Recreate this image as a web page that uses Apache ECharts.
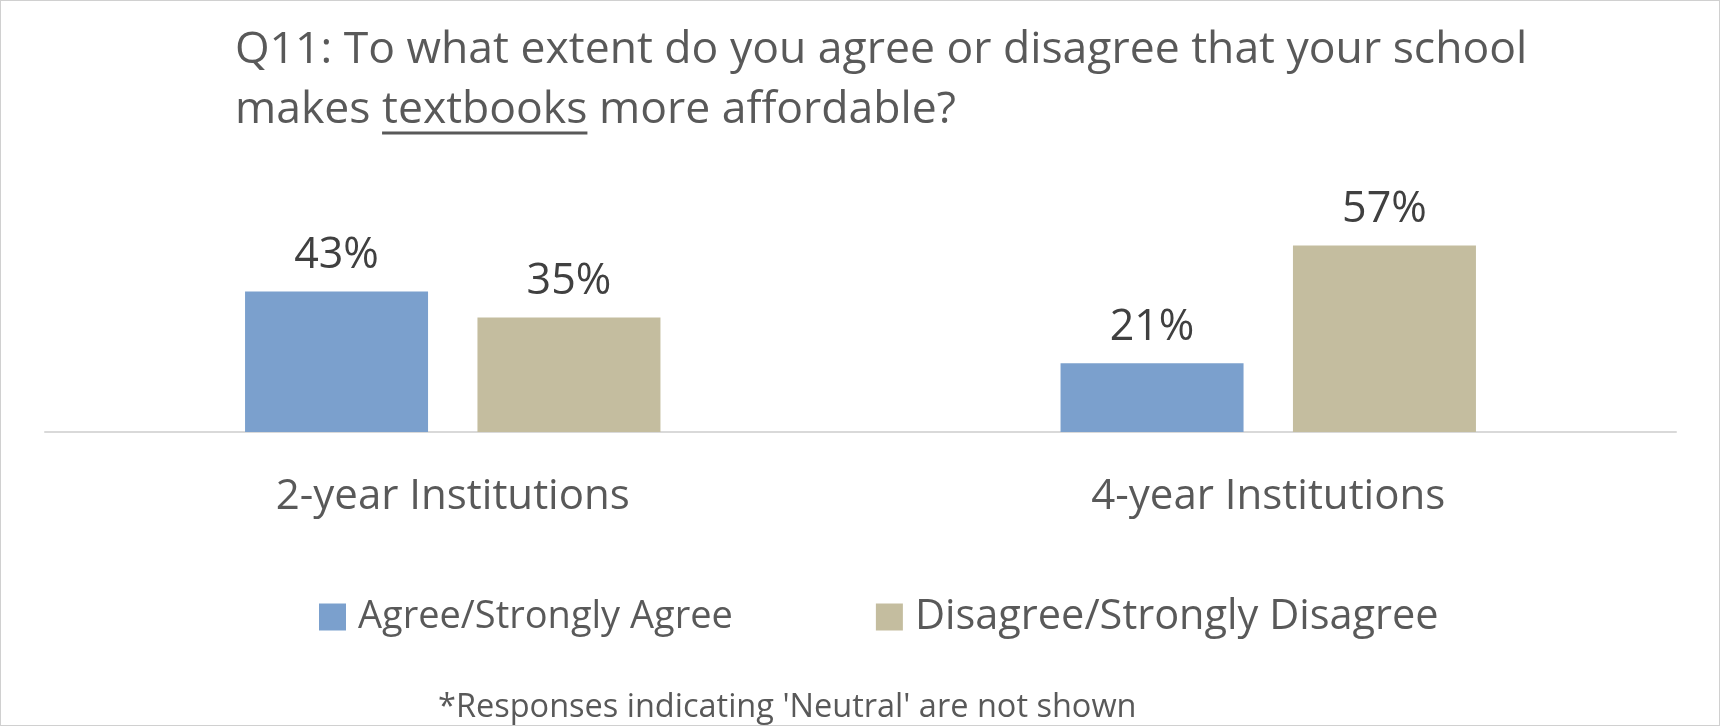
<!DOCTYPE html>
<html>
<head>
<meta charset="utf-8">
<script src="https://cdn.jsdelivr.net/npm/echarts@6/dist/echarts.min.js"></script>
<style>
html,body{margin:0;padding:0;background:#fff;}
#c{position:absolute;left:0;top:0;width:1718px;height:724px;border:1px solid #d0d0d0;}
</style>
</head>
<body>
<div id="c"></div>
<script>
const categories = ['2-year Institutions', '4-year Institutions'];
const seriesNames = ['Agree/Strongly Agree', 'Disagree/Strongly Disagree'];
const agreeValues = [43, 21];
const disagreeValues = [35, 57];
const titleLine1 = 'Q11: To what extent do you agree or disagree that your school';
const titleLine2Pre = 'makes ';
const titleLine2Under = 'textbooks';
const titleLine2Post = ' more affordable?';
const footnote = "*Responses indicating 'Neutral' are not shown";

const FONT = "'Open Sans', 'Noto Sans', sans-serif";
const titleSize = 44.5;
const chart = echarts.init(document.getElementById('c'), null, {renderer: 'canvas'});

// measure for underline
const cv = document.createElement('canvas').getContext('2d');
cv.font = titleSize + "px 'Open Sans'";
const preW = cv.measureText(titleLine2Pre).width;
const underW = cv.measureText(titleLine2Under).width;
const titleLeft = 234;
const titleTop = 19;
const lineH = 60;

chart.setOption({
  animation: false,
  textStyle: {fontFamily: FONT},
  title: [{
    text: titleLine1 + '\n' + titleLine2Pre + titleLine2Under + titleLine2Post,
    left: titleLeft, top: titleTop, padding: 0,
    textStyle: {fontSize: titleSize, fontWeight: 'normal', color: '#595959', lineHeight: lineH, fontFamily: FONT}
  }, {
    text: footnote,
    left: 437, top: 690, padding: 0,
    textStyle: {fontSize: 32.5, fontWeight: 'normal', color: '#595959', fontFamily: FONT}
  }],
  legend: {
    data: seriesNames,
    left: 313, top: 590,
    itemWidth: 27, itemHeight: 27, itemGap: 143,
    icon: 'rect',
    formatter: function (name) {
      return name === seriesNames[1] ? '{b|' + name + '}' : '{a|' + name + '}';
    },
    textStyle: {
      color: '#595959', fontFamily: FONT, padding: [0, 0, 0, 7],
      rich: {
        a: {fontSize: 38, color: '#595959', fontFamily: FONT, height: 42},
        b: {fontSize: 41.5, color: '#595959', fontFamily: FONT, height: 42}
      }
    }
  },
  grid: {left: 44, right: 43, top: 104, bottom: 726 - 433, containLabel: false},
  xAxis: {
    type: 'category', data: categories,
    axisLine: {lineStyle: {color: '#d9d9d9', width: 2}},
    axisTick: {show: false},
    axisLabel: {fontSize: 42, color: '#595959', margin: 44, fontFamily: FONT}
  },
  yAxis: {type: 'value', min: 0, max: 100, show: false, splitLine: {show: false}},
  series: [{
    name: seriesNames[0], type: 'bar', data: agreeValues,
    barWidth: 183, barGap: '27%',
    itemStyle: {color: '#7BA0CD'},
    label: {show: true, position: 'top', distance: 14, formatter: '{c}%', fontSize: 43, color: '#404040', fontFamily: FONT}
  }, {
    name: seriesNames[1], type: 'bar', data: disagreeValues,
    barWidth: 183, barGap: '27%',
    itemStyle: {color: '#C4BD9F'},
    label: {show: true, position: 'top', distance: 14, formatter: '{c}%', fontSize: 43, color: '#404040', fontFamily: FONT}
  }],
  graphic: [{
    type: 'line',
    shape: {x1: titleLeft + preW, y1: titleTop + lineH + 53, x2: titleLeft + preW + underW, y2: titleTop + lineH + 53},
    style: {stroke: '#595959', lineWidth: 3}
  }]
});
</script>
</body>
</html>
